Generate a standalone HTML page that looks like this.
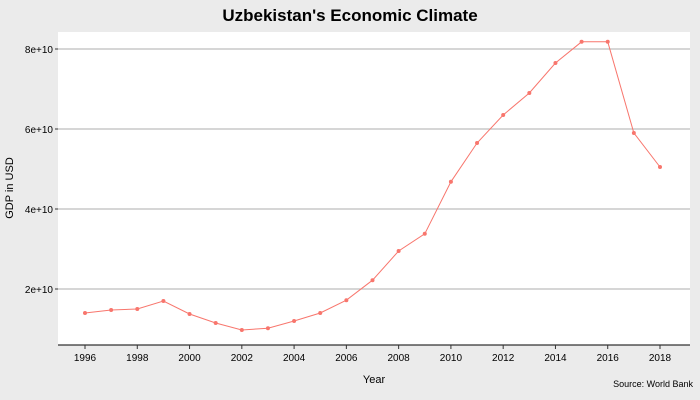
<!DOCTYPE html>
<html><head><meta charset="utf-8"><style>
body{margin:0;background:#ebebeb;}
svg{display:block;font-family:"Liberation Sans",sans-serif;}
</style></head><body>
<svg id="chart" width="700" height="400">
<rect x="0" y="0" width="700" height="400" fill="#ebebeb"/>
<rect x="58" y="32" width="632" height="313" fill="#ffffff"/>
<text x="350" y="21" text-anchor="middle" font-size="17" font-weight="bold" fill="#000">Uzbekistan's Economic Climate</text>
<text x="374" y="383" text-anchor="middle" font-size="11" fill="#000">Year</text>
<text x="13" y="188" text-anchor="middle" font-size="11" fill="#000" transform="rotate(-90 13 188)">GDP in USD</text>
<text x="693" y="387" text-anchor="end" font-size="9" fill="#000">Source: World Bank</text>
<g id="grid"></g><g id="axes"></g><g id="series"></g>
</svg>
<script>
const years=[1996,1997,1998,1999,2000,2001,2002,2003,2004,2005,2006,2007,2008,2009,2010,2011,2012,2013,2014,2015,2016,2017,2018];
const gdp=[1.40e10,1.475e10,1.50e10,1.70e10,1.375e10,1.15e10,0.975e10,1.02e10,1.20e10,1.40e10,1.72e10,2.22e10,2.95e10,3.38e10,4.68e10,5.65e10,6.35e10,6.90e10,7.65e10,8.18e10,8.18e10,5.90e10,5.05e10];
const yTicks=[2e10,4e10,6e10,8e10];
const yTickLabels=["2e+10","4e+10","6e+10","8e+10"];
const xTicks=[1996,1998,2000,2002,2004,2006,2008,2010,2012,2014,2016,2018];
const NS="http://www.w3.org/2000/svg";
const x=v=>85+(v-1996)*(575/22);
const y=v=>369-v/2e10*80;
function mk(t,a,p){const e=document.createElementNS(NS,t);for(const k in a)e.setAttribute(k,a[k]);p.appendChild(e);return e;}
const grid=document.getElementById('grid'),axes=document.getElementById('axes'),ser=document.getElementById('series');
yTicks.forEach((v,i)=>{
 const l=mk('line',{x1:58,x2:690,y1:y(v),y2:y(v),stroke:'#bebebe','stroke-width':1.2},grid);
 
 
 const tk=mk('line',{x1:55,x2:58,y1:y(v),y2:y(v),stroke:'#333'},axes);
 
 
 const t=mk('text',{x:53,y:y(v)+4,'text-anchor':'end','font-size':10,fill:'#000'},axes);
 t.textContent=yTickLabels[i];
 
 
});
const ax=mk('line',{x1:58,x2:690,y1:345,y2:345,stroke:'#000','stroke-width':1},axes);


xTicks.forEach(v=>{
 const tk=mk('line',{x1:x(v),x2:x(v),y1:345,y2:349,stroke:'#333'},axes);
 
 
 const t=mk('text',{x:x(v),y:361,'text-anchor':'middle','font-size':10,fill:'#000'},axes);
 t.textContent=v;
 
 
});
const pl=mk('polyline',{points:years.map((yr,i)=>x(yr)+','+y(gdp[i])).join(' '),fill:'none',stroke:'#f8766d','stroke-width':1},ser);


years.forEach((yr,i)=>{
 const c=mk('circle',{cx:x(yr),cy:y(gdp[i]),r:2,fill:'#f8766d'},ser);
 
 
});
</script>
</body></html>
